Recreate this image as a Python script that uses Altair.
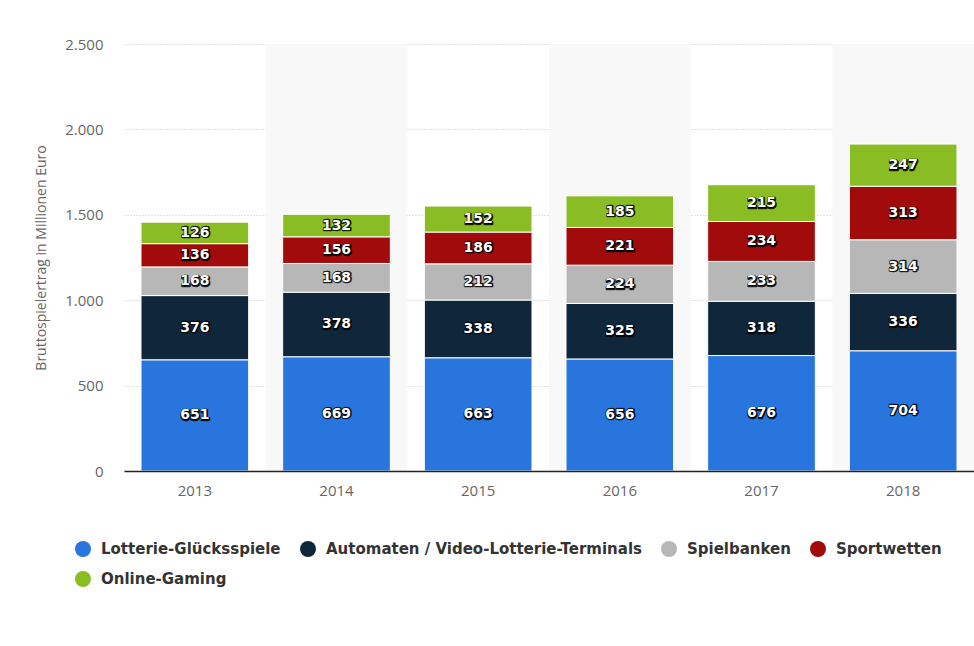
import altair as alt
import pandas as pd

years = ["2013", "2014", "2015", "2016", "2017", "2018"]
categories = [
    "Lotterie-Glücksspiele",
    "Automaten / Video-Lotterie-Terminals",
    "Spielbanken",
    "Sportwetten",
    "Online-Gaming",
]
colors = ["#2876dd", "#10263b", "#b7b7b7", "#a20b0b", "#8abd24"]
lotterie = [651, 669, 663, 656, 676, 704]
automaten = [376, 378, 338, 325, 318, 336]
spielbanken = [168, 168, 212, 224, 233, 314]
sportwetten = [136, 156, 186, 221, 234, 313]
online = [126, 132, 152, 185, 215, 247]
shaded_years = ["2014", "2016", "2018"]
y_ticks = [0, 500, 1000, 1500, 2000, 2500]

series = [lotterie, automaten, spielbanken, sportwetten, online]
rows = []
for ci, (cat, vals) in enumerate(zip(categories, series)):
    for yr, v in zip(years, vals):
        rows.append({"year": yr, "category": cat, "value": v, "order": ci})
df = pd.DataFrame(rows)
shade_df = pd.DataFrame({"year": shaded_years})

W, H = 850, 427

x_scale = alt.Scale(domain=years, paddingInner=0, paddingOuter=0)
y_scale = alt.Scale(domain=[0, 2500], nice=False)

shade = alt.Chart(shade_df).mark_rect(color="#f8f8f8").encode(
    x=alt.X("year:N", scale=x_scale, title=None,
            axis=alt.Axis(labelFont="Open Sans", labelFontSize=15, labelColor="#666666",
                          labelAngle=0, ticks=False, domain=True, domainColor="#222222",
                          domainWidth=1.5, labelPadding=12, zindex=2)),
    y=alt.value(0),
    y2=alt.value(H),
)

base = alt.Chart(df).transform_stack(
    stack="value", groupby=["year"], as_=["y0", "y1"],
    sort=[alt.SortField("order", order="ascending")],
).transform_calculate(mid="(datum.y0 + datum.y1) / 2")

bars = base.mark_bar(width=alt.RelativeBandSize(0.76), stroke="white", strokeWidth=1).encode(
    x=alt.X("year:N", scale=x_scale, title=None),
    y=alt.Y("y0:Q", scale=y_scale,
            title="Bruttospielertrag in Millionen Euro",
            axis=alt.Axis(values=y_ticks,
                          labelExpr="replace(format(datum.value, ','), ',', '.')",
                          domain=False, ticks=False, grid=True, gridDash=[1, 2],
                          gridColor="#c4c4c4", labelPadding=21,
                          labelFont="Open Sans", labelFontSize=15, labelColor="#666666",
                          titleFont="Open Sans", titleFontSize=14, titleColor="#666666",
                          titleFontWeight="normal", titlePadding=16)),
    y2="y1:Q",
    color=alt.Color("category:N", scale=alt.Scale(domain=categories, range=colors),
                    legend=alt.Legend(title=None, orient="none", legendX=-49, legendY=497,
                                      direction="horizontal", columns=4,
                                      symbolType="circle", symbolSize=256,
                                      symbolStrokeWidth=0, symbolOpacity=1,
                                      labelFont="DejaVu Sans", labelFontSize=15,
                                      labelFontWeight="bold", labelColor="#333333",
                                      labelOffset=10, columnPadding=19, rowPadding=14,
                                      labelLimit=500, padding=0)),
    order=alt.Order("order:Q"),
)

label_shadow = base.mark_text(font="DejaVu Sans", fontSize=14, fontWeight="bold",
                              fill="black", stroke="black", strokeWidth=2.5,
                              strokeOpacity=0.85, strokeJoin="round", dx=0.5, dy=0.5,
                              baseline="middle").encode(
    x=alt.X("year:N", scale=x_scale),
    y=alt.Y("mid:Q", scale=y_scale),
    text=alt.Text("value:Q"),
)
labels = base.mark_text(font="DejaVu Sans", fontSize=14, fontWeight="bold",
                        fill="white", baseline="middle").encode(
    x=alt.X("year:N", scale=x_scale),
    y=alt.Y("mid:Q", scale=y_scale),
    text=alt.Text("value:Q"),
)

chart = alt.layer(shade, bars, label_shadow, labels).properties(
    width=W, height=H,
    autosize=alt.AutoSizeParams(type="none"),
    padding={"left": 124, "top": 44, "right": 0, "bottom": 175},
    background="white",
).configure_view(stroke=None)

chart.save("out.html", embed_options={"renderer": "svg", "actions": False})
